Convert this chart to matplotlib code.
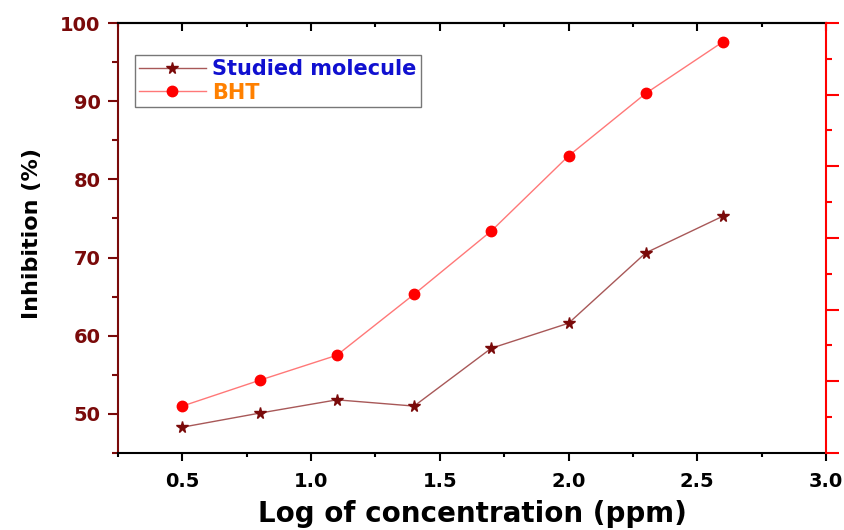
import matplotlib.pyplot as plt
from matplotlib.ticker import MultipleLocator, NullFormatter

plt.rcParams['font.family'] = ['DejaVu Sans']
plt.rcParams['font.weight'] = 'bold'

log_conc = [0.5, 0.8, 1.1, 1.4, 1.7, 2.0, 2.3, 2.6]
studied = [48.3, 50.1, 51.8, 51.0, 58.4, 61.6, 70.6, 75.3]
bht = [51.0, 54.3, 57.5, 65.3, 73.4, 83.0, 91.0, 97.6]

dark_red = '#7a0a0a'

fig = plt.figure(figsize=(8.44, 5.30), dpi=100)
ax = fig.add_axes([0.1398, 0.1453, 0.8389, 0.8113])

ax.plot(log_conc, studied, color='#a85858', lw=1, marker='*', ms=8.5,
        mfc=dark_red, mec=dark_red, label='Studied molecule')
ax.plot(log_conc, bht, color='#ff7878', lw=1, marker='o', ms=7.5,
        mfc='#ff0000', mec='#ff0000', label='BHT')

ax.set_xlim(0.25, 3.0)
ax.set_ylim(45, 100)
ax.xaxis.set_major_locator(MultipleLocator(0.5))
ax.xaxis.set_minor_locator(MultipleLocator(0.25))
ax.yaxis.set_major_locator(MultipleLocator(10))
ax.yaxis.set_minor_locator(MultipleLocator(5))

# bottom ticks out, top ticks in
ax.tick_params(axis='x', which='both', bottom=True, top=False, direction='out',
               colors='black', labelsize=14, pad=8, width=1.5)
ax.tick_params(axis='x', which='major', length=6)
ax.tick_params(axis='x', which='minor', length=3)
ax.tick_params(axis='y', which='both', direction='out', color=dark_red,
               labelcolor=dark_red, labelsize=14, width=1.5, pad=5)
ax.tick_params(axis='y', which='major', length=7.5)
ax.tick_params(axis='y', which='minor', length=4)
for lab in ax.get_xticklabels() + ax.get_yticklabels():
    lab.set_fontweight('bold')

ax.spines['left'].set_color(dark_red)
ax.spines['right'].set_visible(False)
for s in ax.spines.values():
    s.set_linewidth(1.5)

axt = ax.secondary_xaxis('top')
axt.xaxis.set_major_locator(MultipleLocator(0.5))
axt.xaxis.set_minor_locator(MultipleLocator(0.25))
axt.xaxis.set_major_formatter(NullFormatter())
axt.tick_params(axis='x', which='both', direction='in', width=1.5, color='black')
axt.tick_params(axis='x', which='major', length=6)
axt.tick_params(axis='x', which='minor', length=3)
axt.spines['top'].set_linewidth(1.5)

ax2 = ax.twinx()
ax2.set_ylim(0, 6)
ax2.yaxis.set_major_locator(MultipleLocator(1))
ax2.yaxis.set_minor_locator(MultipleLocator(0.5))
ax2.yaxis.set_major_formatter(NullFormatter())
ax2.tick_params(axis='y', which='both', direction='out', color='#ff0000', width=1.5)
ax2.tick_params(axis='y', which='major', length=9)
ax2.tick_params(axis='y', which='minor', length=4)
ax2.spines['right'].set_color('#ff0000')
ax2.spines['right'].set_linewidth(1.5)
for k in ['left', 'top', 'bottom']:
    ax2.spines[k].set_visible(False)

ax.set_xlabel('Log of concentration (ppm)', fontsize=20, fontweight='bold')
ax.xaxis.set_label_coords(0.5, -0.11)
ax.set_ylabel('Inhibition (%)', fontsize=16, fontweight='bold')
ax.yaxis.set_label_coords(-0.107, 0.51)

leg = ax.legend(loc='upper left', bbox_to_anchor=(0.024, 0.925), fontsize=15,
                frameon=True, fancybox=False, edgecolor='#555555',
                handlelength=3.2, handletextpad=0.3, borderpad=0.2,
                labelspacing=0.15, borderaxespad=0)
leg.get_frame().set_linewidth(1)
for txt, c in zip(leg.get_texts(), ['#1010d0', '#ff8000']):
    txt.set_color(c)
    txt.set_fontweight('bold')

fig.savefig('out.png', dpi=100)
